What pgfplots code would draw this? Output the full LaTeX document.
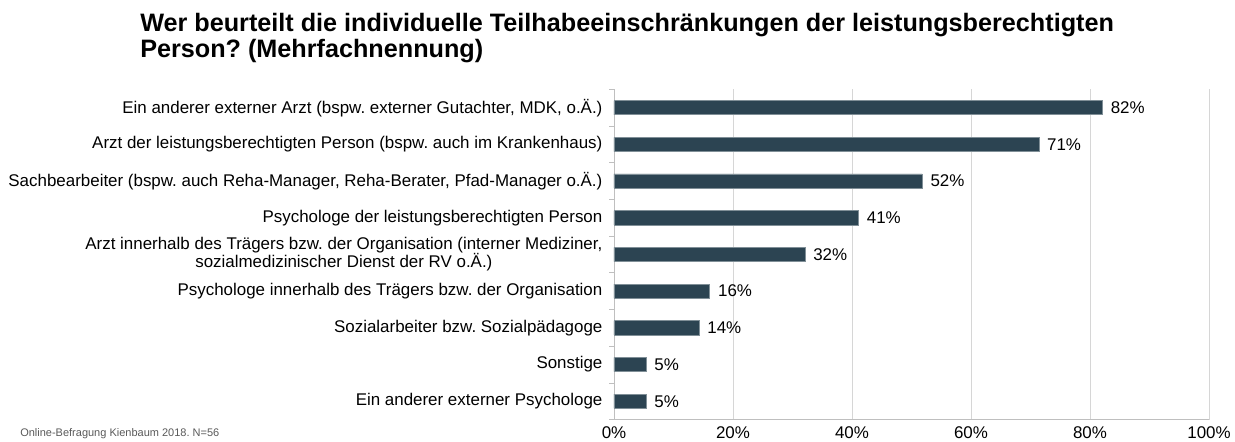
\documentclass[border=0pt]{standalone}
\usepackage{pgfplots}
\pgfplotsset{compat=1.18}
\usepackage{pgfplotstable}
\usepackage{fontspec}
\setmainfont{Liberation Sans}
\frenchspacing
\definecolor{barcol}{HTML}{2C4452}
\definecolor{gridcol}{HTML}{D6D6D6}
\definecolor{axcol}{HTML}{BFBFBF}
\definecolor{footcol}{HTML}{595959}

\pgfplotstableread{
i v lab
0 82.1 82
1 71.4 71
2 51.8 52
3 41.1 41
4 32.1 32
5 16.1 16
6 14.3 14
7 5.4 5
8 5.4 5
}\datatable

\begin{document}
\begin{tikzpicture}
\path[use as bounding box] (0,0) rectangle (926.25pt,331.5pt);
\node[anchor=base west, inner sep=0pt, font=\fontsize{18.9}{20}\selectfont\bfseries] at (105pt,307.5pt) {Wer beurteilt die individuelle Teilhabeeinschränkungen der leistungsberechtigten};
\node[anchor=base west, inner sep=0pt, font=\fontsize{18.9}{20}\selectfont\bfseries] at (105pt,288pt) {Person? (Mehrfachnennung)};
\node[anchor=base west, inner sep=0pt, font=\fontsize{8.25}{10}\selectfont, text=footcol] at (15pt,4pt) {Online-Befragung Kienbaum 2018. N=56};
\begin{axis}[
  at={(460.5pt,16.8pt)}, anchor=south west,
  scale only axis, width=446.25pt, height=247.7pt,
  xbar, bar width=10.7pt,
  xmin=0, xmax=100, ymin=-0.5, ymax=8.5, y dir=reverse,
  axis lines=left, axis line style={-, draw=axcol, line width=0.6pt},
  xtick={0,20,...,100}, xticklabels={0\%,20\%,40\%,60\%,80\%,100\%},
  xmajorgrids, grid style={draw=gridcol, line width=0.6pt},
  major x tick style={draw=none},
  xticklabel style={font=\fontsize{12.7}{14}\selectfont, anchor=north, inner sep=0pt, yshift=-4.8pt},
  ytick={0,...,8},
  yticklabels={
    {Ein anderer externer Arzt (bspw. externer Gutachter, MDK, o.Ä.)},
    {Arzt der leistungsberechtigten Person (bspw. auch im Krankenhaus)},
    {Sachbearbeiter (bspw. auch Reha-Manager, Reha-Berater, Pfad-Manager o.Ä.)},
    {Psychologe der leistungsberechtigten Person},
    {Arzt innerhalb des Trägers bzw. der Organisation (interner Mediziner,\\sozialmedizinischer Dienst der RV o.Ä.)},
    {Psychologe innerhalb des Trägers bzw. der Organisation},
    {Sozialarbeiter bzw. Sozialpädagoge},
    {Sonstige},
    {Ein anderer externer Psychologe}},
  yticklabel style={font=\fontsize{12.7}{13.5}\selectfont, align=center, anchor=east, inner sep=0pt, xshift=-8.5pt},
  major y tick style={draw=none},
  minor ytick={-0.5,0.5,...,8.5},
  minor y tick style={draw=axcol, line width=0.6pt},
  minor tick length=3.5pt,
  major tick length=0pt,
  tick align=outside,
  point meta=explicit symbolic,
  nodes near coords={\pgfplotspointmeta\%},
  nodes near coords align={horizontal},
  every node near coord/.append style={font=\fontsize{12.7}{14}\selectfont, text=black, anchor=west, inner sep=0pt, xshift=6pt},
  clip=false,
]
\addplot[fill=barcol, draw=barcol!60!white, line width=0.5pt] table[x=v, y=i, meta=lab] {\datatable};
\end{axis}
\end{tikzpicture}
\end{document}
